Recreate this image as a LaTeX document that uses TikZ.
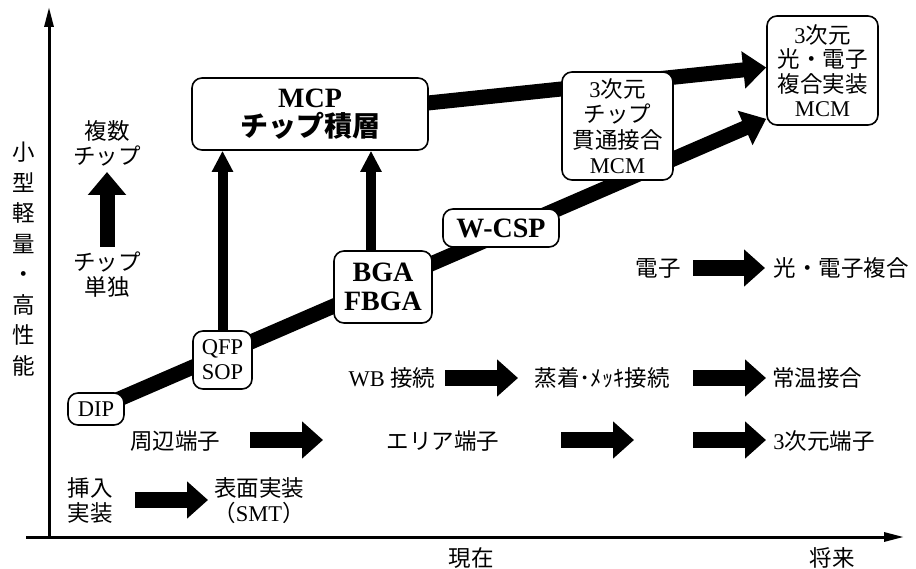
\documentclass[tikz,border=0pt]{standalone}
\usepackage{fontspec}
\setmainfont{Liberation Serif}
\newfontfamily\jp{Noto Sans CJK JP}
\newcommand\J[1]{{\jp #1}}
\usetikzlibrary{arrows.meta,backgrounds,calc}
\begin{document}
\begin{tikzpicture}[x=1pt,y=-1pt,
  every node/.style={font=\fontsize{22.5}{25}\selectfont, inner sep=0pt, align=center},
  box/.style={draw, line width=1.6pt, rounded corners=10pt, fill=white},
  bbox/.style={box, font=\fontsize{28}{29}\selectfont\bfseries},
  axis/.style={line width=3pt, -{Triangle[length=20pt,width=9pt]}},
  fat/.style={line width=16pt, -{Triangle[length=21pt,width=36pt]}},
  bandarrow/.style={line width=15pt, -{Triangle[length=23pt,width=36pt]}},
  thinup/.style={line width=10pt, -{Triangle[length=21pt,width=20pt]}},
  bigup/.style={line width=15pt, -{Triangle[length=23pt,width=37pt]}},
]
\useasboundingbox (0,0) rectangle (916,569);

% axes
\coordinate (xo) at (26,537);
\coordinate (xe) at (904,537);
\coordinate (yo) at (49,537);
\coordinate (ye) at (49,7);
\draw[axis] (xo) -- (xe);
\draw[axis] (yo) -- (ye);

\node[font=\fontsize{22.5}{30.5}\selectfont\jp] (ylab) at (24,259) {小\\型\\軽\\量\\・\\高\\性\\能};
\node (now) at (471,558) {\J{現在}};
\node (future) at (832,558) {\J{将来}};

% boxes
\node[bbox, minimum width=236pt, minimum height=72pt] (mcp) at (310,114) {MCP\\\J{チップ積層}};
\node[bbox, minimum width=98pt, minimum height=72pt] (bga) at (383,287) {BGA\\FBGA};
\node[bbox, minimum width=116pt, minimum height=38pt] (wcsp) at (501,228) {W-CSP};
\node[box, minimum width=59pt, minimum height=58pt] (qfp) at (222.5,360) {QFP\\SOP};
\node[box, minimum width=56pt, minimum height=32pt] (dip) at (96,409) {DIP};
\node[box, minimum width=111pt, minimum height=108pt, font=\fontsize{22.5}{25.5}\selectfont] (mcm) at (617.5,126) {3\J{次元}\\\J{チップ}\\\J{貫通接合}\\MCM};
\node[box, minimum width=111pt, minimum height=109pt, font=\fontsize{22.5}{24.5}\selectfont] (r3d) at (822.5,70.5) {3\J{次元}\\\J{光・電子}\\\J{複合実装}\\MCM};

% thick bands behind boxes
\begin{scope}[on background layer]
  \draw[bandarrow] (dip.center) -- ($(r3d.south west)+(0,-7)$);
  \draw[bandarrow] ($(mcp.east)+(-20,-9)$) -- ($(r3d.west)+(0,-3)$);
\end{scope}

% vertical arrows to MCP
\coordinate (qtop) at (qfp.north);
\coordinate (btop) at ($(bga.north)+(-12,0)$);
\draw[thinup] (qtop) -- (qtop |- mcp.south);
\draw[thinup] (btop) -- (btop |- mcp.south);

% single/multi chip
\node (multi) at (107,143) {\jp 複数\\\jp チップ};
\node (single) at (107,275) {\jp チップ\\\jp 単独};
\coordinate (ua1) at (107,247);
\coordinate (ua2) at (107,172);
\draw[bigup] (ua1) -- (ua2);

% electron row
\node (el) at (658,268) {\J{電子}};
\node (opt) at (841,268) {\J{光・電子複合}};
\coordinate (e1s) at (693,268);
\coordinate (e1e) at (765,268);
\draw[fat] (e1s) -- (e1e);

% bonding row
\node (wb) at (392,378) {WB \J{接続}};
\node (depo) at (602,378) {\J{蒸着･ﾒｯｷ接続}};
\node (room) at (817,378) {\J{常温接合}};
\coordinate (b1s) at (445,378);
\coordinate (b1e) at (518,378);
\coordinate (b2s) at (693,378);
\coordinate (b2e) at (766,378);
\draw[fat] (b1s) -- (b1e);
\draw[fat] (b2s) -- (b2e);

% terminal row
\node (peri) at (175,441) {\J{周辺端子}};
\node (area) at (443,441) {\J{エリア端子}};
\node (t3d) at (824,441) {3\J{次元端子}};
\coordinate (t1s) at (250,440);
\coordinate (t1e) at (323,440);
\coordinate (t2s) at (561,440);
\coordinate (t2e) at (634,440);
\coordinate (t3s) at (693,440);
\coordinate (t3e) at (766,440);
\draw[fat] (t1s) -- (t1e);
\draw[fat] (t2s) -- (t2e);
\draw[fat] (t3s) -- (t3e);

% mounting row
\node (ins) at (90,501) {\fontsize{22.5}{23}\selectfont\jp 挿入\\\jp 実装};
\node (smt) at (259,501) {\fontsize{22.5}{23}\selectfont\jp 表面実装\\\J{（}SMT\J{）}};
\coordinate (m1s) at (135,500);
\coordinate (m1e) at (208,500);
\draw[fat] (m1s) -- (m1e);
\end{tikzpicture}
\end{document}
